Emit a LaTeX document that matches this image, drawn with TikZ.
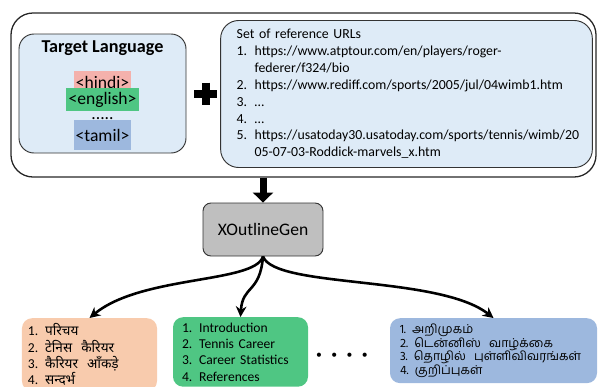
\documentclass[tikz,border=0pt]{standalone}
\usepackage{fontspec}
\setmainfont{Carlito}
\newfontfamily\hindifont[Script=Devanagari]{Noto Sans}
\newfontfamily\tamilfont[Script=Tamil]{Hind Madurai}
\usetikzlibrary{arrows.meta,positioning}
\definecolor{boxblue}{HTML}{DEEBF7}
\definecolor{hindipink}{HTML}{F4B1AC}
\definecolor{engreen}{HTML}{4FC683}
\definecolor{tamilblue}{HTML}{9DB8DE}
\definecolor{outorange}{HTML}{F8CBAD}
\definecolor{gengray}{HTML}{BFBFBF}
\newcommand\tightlines{\lineskiplimit=-20pt\relax}

\begin{document}
\begin{tikzpicture}[
    x=0.03cm, y=-0.03cm,
    frame/.style={rectangle, draw=black!85, line width=1.1pt, rounded corners=0.66cm,
    minimum width=17.55cm, minimum height=4.92cm},
    inbox/.style={rectangle, draw=black!80, line width=0.8pt, fill=boxblue},
    tag/.style={rectangle, inner sep=0pt, minimum width=1.71cm, font=\fontsize{15}{18}\selectfont},
    outline/.style={rectangle, rounded corners=0.3cm, anchor=north, align=left,
    inner ysep=0.16cm, font=\fontsize{11.6}{14}\selectfont},
    bigarrow/.style={-{Triangle[length=3mm, width=6mm]}, line width=0.21cm},
    curvearrow/.style={-{Stealth[length=3.2mm, width=3.2mm]}, line width=2.2pt}
]
\useasboundingbox (0,0) rectangle (599,386);
\clip (0,0) rectangle (599,386);
% input frame
\node[frame] (frame) at (303.5,95) {};
\node[inbox, rounded corners=0.45cm, minimum width=5.01cm, minimum height=3.57cm] (lang) at (102.5,93.5) {};
\node[font=\fontsize{15.5}{18}\selectfont\bfseries] (title) at (102.5,48) {Target Language};
\node[tag, fill=hindipink, minimum height=0.69cm] (hin) at (102.5,82) {<hindi>};
\node[tag, fill=engreen, minimum width=2.19cm, minimum height=0.69cm] (eng) at (102.5,99.5) {<english>};
\node[tag, fill=tamilblue, minimum height=0.9cm, text depth=0pt, yshift=-2pt] (tam) at (102.5,133) {<tamil>};
\node[font=\fontsize{15}{18}\selectfont, inner sep=0pt] (gap) at (102.5,119) {.....};
\draw[line width=0.24cm] (194,93.5) -- (217,93.5) (205.5,82.5) -- (205.5,104.5);
\node[inbox, rounded corners=0.54cm, minimum width=10.89cm, minimum height=4.41cm,
    text width=10.19cm, inner xsep=0.48cm, align=left,
    font=\fontsize{11.8}{14.4}\selectfont] (urls) at (406.5,94) {%
    Set of reference URLs\\
    \makebox[0.54cm][l]{1.}https://www.atptour.com/en/players/roger-\\
    \hspace*{0.54cm}federer/f324/bio\\
    \makebox[0.54cm][l]{2.}https://www.rediff.com/sports/2005/jul/04wimb1.htm\\
    \makebox[0.54cm][l]{3.}…\\
    \makebox[0.54cm][l]{4.}…\\
    \makebox[0.54cm][l]{5.}https://usatoday30.usatoday.com/sports/tennis/wimb/20\\
    \hspace*{0.54cm}05-07-03-Roddick-marvels\_x.htm};
% generator
\node[rectangle, draw=black!80, line width=0.8pt, fill=gengray, rounded corners=0.24cm,
    minimum width=3.6cm, minimum height=1.59cm, font=\fontsize{15}{18}\selectfont] (gen) at (263,229.5) {XOutlineGen};
\draw[bigarrow] (frame.south -| gen.north) -- (gen.north);
% outlines
\node[outline, fill=outorange, text width=3.69cm, inner xsep=0.18cm] (hout) at (89.5,318) {%
    \tightlines 1. {\hindifont परिचय}\\
    2. {\hindifont टेनिस\ \ कैरियर}\\
    3. {\hindifont कैरियर\ \ आँकड़े}\\
    4. {\hindifont सन्दर्भ}};
\node[outline, fill=engreen, text width=3.51cm, inner xsep=0.27cm] (eout) at (240.5,317) {%
    1. Introduction\\
    2. Tennis Career\\
    3. Career Statistics\\
    4. References};
\node[outline, fill=tamilblue, text width=5.61cm, inner xsep=0.3cm,
    font=\fontsize{10.5}{11.8}\selectfont\tamilfont] (tout) at (493.5,318) {%
    \tightlines 1. அறிமுகம்\\
    2. டென்னிஸ்\ \ வாழ்க்கை\\
    3. தொழில்\ \ புள்ளிவிவரங்கள்\\
    4. குறிப்புகள்};
\node[font=\fontsize{10}{10}\selectfont] (more) at (342,356) {\makebox[13pt]{•}\makebox[13pt]{•}\makebox[13pt]{•}\makebox[13pt]{•}};
\draw[curvearrow] (gen.south) .. controls +(-8,27) and +(52,-43) .. (hout.north);
\draw[curvearrow] (gen.south) .. controls +(-3,37) and +(2,-32) .. (eout.north);
\draw[curvearrow] (gen.south) .. controls +(12,32) and +(-55,-43) .. (tout.north);
\end{tikzpicture}
\end{document}
